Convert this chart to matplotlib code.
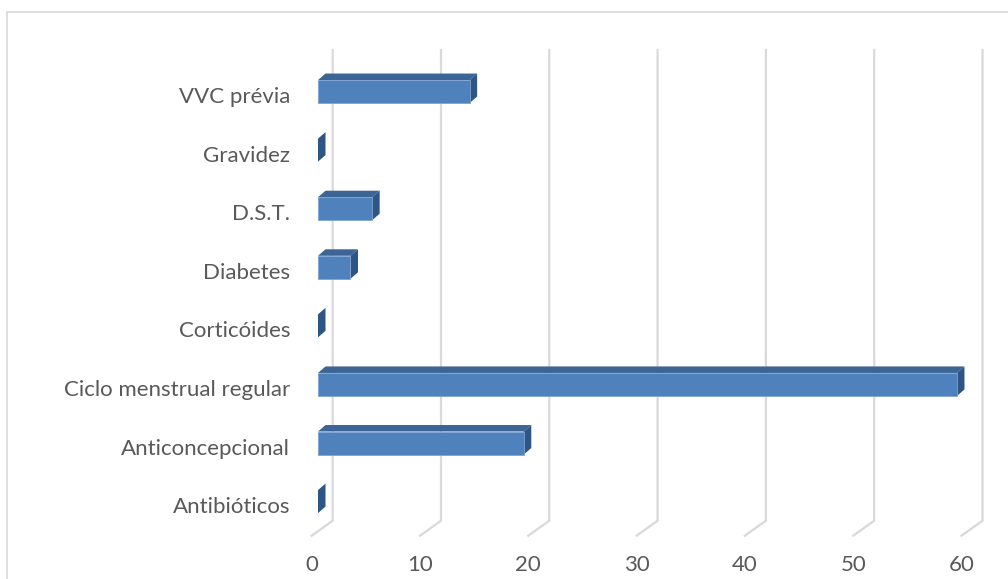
import matplotlib
matplotlib.use("Agg")
import matplotlib.pyplot as plt
from matplotlib.patches import Polygon, Rectangle

categories = ["Antibióticos", "Anticoncepcional", "Ciclo menstrual regular",
              "Corticóides", "Diabetes", "D.S.T.", "Gravidez", "VVC prévia"]
values = [0, 19, 59, 0, 3, 5, 0, 14]
ticks = [0, 10, 20, 30, 40, 50, 60]

plt.rcParams['font.family'] = ['Lato', 'DejaVu Sans']

W, H = 1008, 579
fig = plt.figure(figsize=(W / 100, H / 100), dpi=100)
ax = fig.add_axes([0, 0, 1, 1])
ax.set_axis_off()

# pixel scale of the front plane
SX = 10.83          # px per unit on the value axis
SY = 58.58          # px per category
X0 = 311.7          # px of value 0 at the front
Y0 = 501.6          # px of first category centre (from top)
ax.set_xlim(-X0 / SX, (W - X0) / SX)
ax.set_ylim(-(H - Y0) / SY, Y0 / SY)

def px(d):
    return d / SX

def py(d):
    return d / SY

def row(pix):
    # screen row (from top) -> y data
    return (Y0 - pix) / SY

grid_col = "#d9d9d9"
text_col = "#595959"

# floor edge and back wall gridlines
floor_front = row(535.7)
floor_back = row(520.7)
wall_top = row(50)
depth_x = px(21)
for t in ticks:
    ax.plot([t, t + depth_x, t + depth_x], [floor_front, floor_back, wall_top],
            color=grid_col, lw=1.6, solid_joinstyle="miter", zorder=1)

# 3D bars
front_col = "#4f81bd"
top_col = "#3c6595"
side_col = "#2f5584"
edge_col = "#7ea3d3"
bar_off = px(6.3)
half_h = py(11.5)
dx, dy = px(7.5), py(6.5)
for i, v in enumerate(values):
    x0 = bar_off
    x1 = bar_off + v
    yb, yt = i - half_h, i + half_h
    if v > 0:
        ax.add_patch(Polygon([(x0, yt), (x0 + dx, yt + dy), (x1 + dx, yt + dy), (x1, yt)],
                             closed=True, facecolor=top_col, edgecolor="none", zorder=3))
        ax.add_patch(Rectangle((x0, yb), v, yt - yb, facecolor=front_col,
                               edgecolor=edge_col, lw=0.6, zorder=4))
    ax.add_patch(Polygon([(x1, yb), (x1, yt), (x1 + dx, yt + dy), (x1 + dx, yb + dy)],
                         closed=True, facecolor=side_col, edgecolor="none", zorder=3))

# category labels
for i, c in enumerate(categories):
    ax.text(-px(21.7), i - py(5.5), c, ha="right", va="center",
            fontsize=16, color=text_col)

# value axis labels
for t in ticks:
    ax.text(t, row(565), str(t), ha="center", va="center",
            fontsize=16, color=text_col)

# chart area border
ax.add_patch(Rectangle((px(7 - X0), row(H + 20)), px(W + 20), py(H + 8),
                       facecolor="none", edgecolor=grid_col, lw=1.2, zorder=0))

fig.savefig("out.png", dpi=100)
